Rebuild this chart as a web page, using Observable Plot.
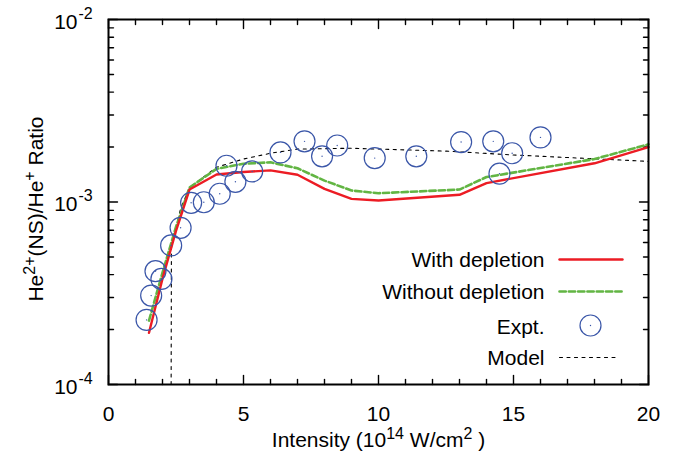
<!DOCTYPE html>
<html>
<head>
<meta charset="utf-8">
<script src="https://cdn.jsdelivr.net/npm/d3@7"></script>
<script src="https://cdn.jsdelivr.net/npm/@observablehq/plot@0.6"></script>
<style>
  html, body { margin: 0; padding: 0; background: #fff; }
  #chart svg { display: block; }
</style>
</head>
<body>
<div id="chart"></div>
<script>
// ---- data ----
const withX = [1.5, 2.0, 2.5, 3.0, 4.0, 5.0, 6.0, 7.0, 8.0, 9.0, 10.0, 13.0, 14.0, 18.0, 20.0];
const withY = [1.92e-4, 3.8e-4, 6.95e-4, 1.17e-3, 1.415e-3, 1.46e-3, 1.49e-3, 1.41e-3, 1.18e-3, 1.04e-3, 1.02e-3, 1.095e-3, 1.27e-3, 1.63e-3, 2.0e-3];

const withoutX = [1.5, 2.0, 2.5, 3.0, 4.0, 5.0, 6.0, 7.0, 8.0, 9.0, 10.0, 13.0, 14.0, 18.0, 20.0];
const withoutY = [2.24e-4, 4.1e-4, 7.3e-4, 1.2e-3, 1.52e-3, 1.62e-3, 1.65e-3, 1.53e-3, 1.31e-3, 1.156e-3, 1.117e-3, 1.17e-3, 1.37e-3, 1.72e-3, 2.07e-3];

const modelX = [2.32, 2.33, 2.67, 3.0, 4.0, 5.0, 6.0, 7.0, 9.0, 12.5, 15.0, 20.0];
const modelY = [1e-4, 5.6e-4, 9.2e-4, 1.2e-3, 1.55e-3, 1.72e-3, 1.85e-3, 1.95e-3, 1.97e-3, 1.9e-3, 1.81e-3, 1.67e-3];

const exptX = [1.41, 1.58, 1.74, 1.96, 2.32, 2.67, 3.06, 3.53, 4.12, 4.37, 4.70, 5.32, 6.37, 7.26, 7.91, 8.47, 9.86, 11.4, 13.06, 14.25, 14.95, 14.48, 16.0];
const exptY = [2.26e-4, 3.07e-4, 4.18e-4, 3.79e-4, 5.78e-4, 7.22e-4, 9.9e-4, 9.97e-4, 1.11e-3, 1.58e-3, 1.29e-3, 1.47e-3, 1.87e-3, 2.15e-3, 1.78e-3, 2.04e-3, 1.74e-3, 1.78e-3, 2.13e-3, 2.15e-3, 1.85e-3, 1.43e-3, 2.26e-3];

const xMajor = [0, 5, 10, 15, 20];
const xMinor = d3.range(0, 21).filter(v => v % 5 !== 0);
const yMajor = [1e-4, 1e-3, 1e-2];
const yExp = ["-4", "-3", "-2"];
const yMinor = [2,3,4,5,6,7,8,9].map(m => m * 1e-4).concat([2,3,4,5,6,7,8,9].map(m => m * 1e-3));

const legendLabels = ["With depletion", "Without depletion", "Expt.", "Model"];

// ---- styles ----
const RED = "#ec1c24";
const GREEN = "#62b543";
const BLUE = "#3a56a8";
const FONT = "'Liberation Sans', Arial, Helvetica, sans-serif";
const FS = 21;

const table = (xs, ys) => xs.map((x, i) => ({x, y: ys[i]}));
const withData = table(withX, withY);
const withoutData = table(withoutX, withoutY);
const modelData = table(modelX, modelY);
const exptData = table(exptX, exptY);

const lineShape = {draw(ctx, l) { ctx.moveTo(0, 0); ctx.lineTo(0, -l); }};

function ticksX(values, len, anchor, rot) {
  return Plot.vector(values, {x: d => d, frameAnchor: anchor, length: len, rotate: rot, anchor: "start", shape: lineShape, stroke: "black", strokeWidth: 1.4});
}
function ticksY(values, len, anchor, rot) {
  return Plot.vector(values, {y: d => d, frameAnchor: anchor, length: len, rotate: rot, anchor: "start", shape: lineShape, stroke: "black", strokeWidth: 1.4});
}

const legendRowDy = [241, 273, 308, 339];

const chart = Plot.plot({
  width: 690,
  height: 457,
  marginLeft: 108,
  marginRight: 42,
  marginTop: 19,
  marginBottom: 73,
  style: {fontFamily: FONT, fontSize: FS + "px", background: "white", color: "black"},
  x: {domain: [0, 20], axis: null},
  y: {type: "log", domain: [1e-4, 1e-2], axis: null},
  marks: [
    // ticks
    ticksX(xMajor, 9, "bottom", 0),
    ticksX(xMinor, 5, "bottom", 0),
    ticksX(xMajor, 9, "top", 180),
    ticksX(xMinor, 5, "top", 180),
    ticksY(yMajor, 9, "left", 90),
    ticksY(yMinor, 5, "left", 90),
    ticksY(yMajor, 9, "right", -90),
    ticksY(yMinor, 5, "right", -90),
    // tick labels
    Plot.text(xMajor, {x: d => d, frameAnchor: "bottom", dy: 36, text: d => String(d), fontSize: FS, lineAnchor: "bottom", fill: "black"}),
    Plot.text(yMajor, {y: d => d, frameAnchor: "left", dx: -31, dy: 9, text: () => "10", textAnchor: "end", lineAnchor: "bottom", fontSize: FS, fill: "black"}),
    Plot.text(yMajor, {y: d => d, frameAnchor: "left", dx: -30, dy: -1, text: (d, i) => yExp[i], textAnchor: "start", lineAnchor: "bottom", fontSize: 16, fill: "black"}),
    // axis titles
    Plot.text(["Intensity (10^14 W/cm^2 )"], {frameAnchor: "bottom", dy: 62, text: d => d, textAnchor: "middle", fontSize: FS, lineAnchor: "bottom", fill: "black"}),
    Plot.text(["He^2+(NS)/He^+ Ratio"], {frameAnchor: "left", dx: -66, dy: 7, text: d => d, rotate: -90, textAnchor: "middle", fontSize: FS, lineAnchor: "bottom", fill: "black"}),
    // data
    Plot.line(modelData, {x: "x", y: "y", stroke: "black", strokeWidth: 1.1, strokeDasharray: "3,4.5"}),
    Plot.line(withoutData, {x: "x", y: "y", stroke: GREEN, strokeWidth: 2.6, strokeDasharray: "6.3,3"}),
    Plot.line(withData, {x: "x", y: "y", stroke: RED, strokeWidth: 2.4}),
    Plot.dot(exptData, {x: "x", y: "y", r: 10.5, stroke: BLUE, strokeWidth: 1.2, fill: "none"}),
    Plot.dot(exptData, {x: "x", y: "y", r: 0.7, fill: BLUE, stroke: "none"}),
    // legend
    ...legendLabels.map((lab, i) => Plot.text([lab], {frameAnchor: "top-right", dx: -104, dy: legendRowDy[i], text: d => d, textAnchor: "end", lineAnchor: "middle", fontSize: FS, fill: "black"})),
    Plot.vector([0], {frameAnchor: "top-right", dx: -89, dy: legendRowDy[0] - 1, length: 63, rotate: 90, anchor: "start", shape: lineShape, stroke: RED, strokeWidth: 2.4}),
    Plot.vector([0], {frameAnchor: "top-right", dx: -89, dy: legendRowDy[1] - 1, length: 63, rotate: 90, anchor: "start", shape: lineShape, stroke: GREEN, strokeWidth: 2.6, strokeDasharray: "6.3,3"}),
    Plot.dot([0], {frameAnchor: "top-right", dx: -58, dy: legendRowDy[2] - 2, r: 10.5, stroke: BLUE, strokeWidth: 1.2, fill: "none"}),
    Plot.dot([0], {frameAnchor: "top-right", dx: -58, dy: legendRowDy[2] - 2, r: 0.7, fill: BLUE, stroke: "none"}),
    Plot.vector([0], {frameAnchor: "top-right", dx: -89, dy: legendRowDy[3] - 1, length: 59, rotate: 90, anchor: "start", shape: lineShape, stroke: "black", strokeWidth: 1.1, strokeDasharray: "3,4.5"}),
    Plot.frame({stroke: "black", strokeWidth: 2})
  ]
});

document.getElementById("chart").appendChild(chart);

// superscripts in axis titles
function superscript(textEl, parts) {
  const sel = d3.select(textEl);
  sel.text(null);
  let shifted = false;
  for (const [s, sup] of parts) {
    const t = sel.append("tspan").text(s);
    if (sup && !shifted) { t.attr("dy", "-0.45em").attr("font-size", "0.76em"); shifted = true; }
    else if (sup && shifted) { t.attr("font-size", "0.76em"); }
    else if (!sup && shifted) { t.attr("dy", "0.342em"); shifted = false; }
  }
}
d3.select(chart).selectAll("text").each(function() {
  const s = this.textContent;
  if (s === "Intensity (10^14 W/cm^2 )") {
    superscript(this, [["Intensity (10", false], ["14", true], [" W/cm", false], ["2", true], [" )", false]]);
  } else if (s === "He^2+(NS)/He^+ Ratio") {
    superscript(this, [["He", false], ["2+", true], ["(NS)/He", false], ["+", true], [" Ratio", false]]);
  }
});
</script>
</body>
</html>
